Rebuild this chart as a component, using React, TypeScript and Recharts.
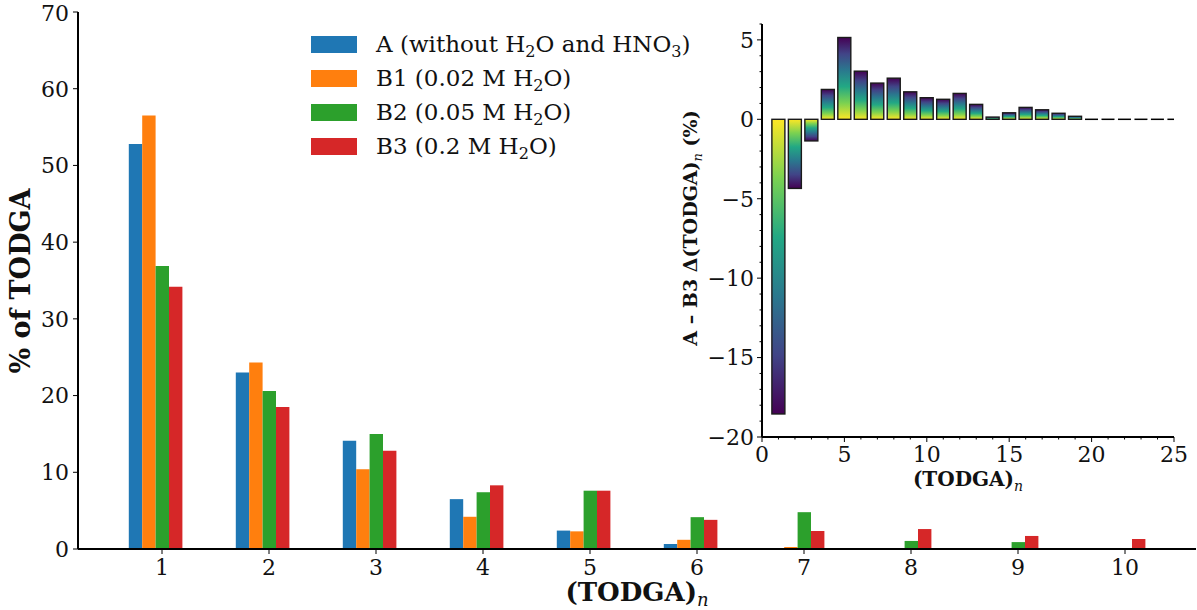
import React from 'react';
import { BarChart, Bar, XAxis, YAxis, Legend, Label } from 'recharts';

const FONT = '"DejaVu Serif", serif';
const INK = '#111';

// main panel: % of TODGA found in each (TODGA)n aggregate
const sizes = [1, 2, 3, 4, 5, 6, 7, 8, 9, 10];
const sampleA = [52.8, 23.0, 14.1, 6.5, 2.4, 0.65, 0.13, 0.02, 0, 0];
const sampleB1 = [56.5, 24.3, 10.4, 4.2, 2.3, 1.2, 0.26, 0.1, 0, 0];
const sampleB2 = [36.9, 20.6, 15.0, 7.4, 7.6, 4.15, 4.8, 1.05, 0.9, 0.05];
const sampleB3 = [34.2, 18.5, 12.8, 8.3, 7.6, 3.8, 2.35, 2.6, 1.7, 1.3];
const mainYTicks = [0, 10, 20, 30, 40, 50, 60, 70];

const seriesKeys = ['a', 'b1', 'b2', 'b3'];
const seriesNames = ['A (without H_2O and HNO_3)', 'B1 (0.02 M H_2O)', 'B2 (0.05 M H_2O)', 'B3 (0.2 M H_2O)'];
const seriesColors = ['#1f77b4', '#ff7f0e', '#2ca02c', '#d62728'];

// inset: difference between B3 and A for each aggregate size
const insetSizes = [1, 2, 3, 4, 5, 6, 7, 8, 9, 10, 11, 12, 13, 14, 15, 16, 17, 18, 19, 20, 21, 22, 23, 24, 25];
const insetDelta = [-18.55, -4.35, -1.36, 1.88, 5.15, 3.03, 2.28, 2.59, 1.73, 1.36, 1.26, 1.63, 0.94, 0.14, 0.41, 0.75, 0.6, 0.38, 0.19, 0, 0, 0, 0, 0, 0];
const insetXLabels = [0, 5, 10, 15, 20, 25];
const insetYLabels = [-20, -15, -10, -5, 0, 5];
const insetXTicks = Array.from({ length: 26 }, (_, i) => i);
const insetYTicks = Array.from({ length: 27 }, (_, i) => i - 20);

const mainRows = sizes.map((n, i) => ({
  n,
  a: sampleA[i],
  b1: sampleB1[i],
  b2: sampleB2[i],
  b3: sampleB3[i],
}));

const insetRows = insetSizes.map((n, i) => ({ n, delta: insetDelta[i] }));

const BAR_W = 13.4;
const viridis = ['#fde725', '#7ad151', '#22a884', '#2a788e', '#414487', '#440154'];

const fmt = (v: number) => (v < 0 ? '\u2212' + Math.abs(v) : String(v));

function withSubs(text: string) {
  const parts = text.split(/_(\d)/);
  return parts.map((p, i) =>
    i % 2 === 1 ? (
      <span key={i} style={{ fontSize: '0.7em', position: 'relative', top: '0.3em', lineHeight: 0 }}>
        {p}
      </span>
    ) : (
      <span key={i}>{p}</span>
    )
  );
}

const MainXTick = (props: any) => {
  const { x, y, payload } = props;
  const cx = x + BAR_W / 2;
  return (
    <g>
      <line x1={cx} x2={cx} y1={y - 9} y2={y - 4} stroke="#000" strokeWidth={1} />
      <text x={cx} y={y} dy="0.75em" textAnchor="middle" fontFamily={FONT} fontSize={22} fill={INK}>
        {payload.value}
      </text>
    </g>
  );
};

const InsetXTick = (props: any) => {
  const { x, y, payload } = props;
  const major = insetXLabels.includes(payload.value);
  const ay = y - 8;
  return (
    <g>
      <line x1={x} x2={x} y1={ay} y2={ay + (major ? 5 : 2.5)} stroke="#000" strokeWidth={1} />
      {major && (
        <text x={x} y={y} dy="0.75em" textAnchor="middle" fontFamily={FONT} fontSize={22} fill={INK}>
          {payload.value}
        </text>
      )}
    </g>
  );
};

const InsetYTick = (props: any) => {
  const { x, y, payload } = props;
  const major = insetYLabels.includes(payload.value);
  const ax = x + 8;
  return (
    <g>
      <line x1={ax - (major ? 5 : 2.5)} x2={ax} y1={y} y2={y} stroke="#000" strokeWidth={1} />
      {major && (
        <text x={x} y={y} dy="0.36em" textAnchor="end" fontFamily={FONT} fontSize={22} fill={INK}>
          {fmt(payload.value)}
        </text>
      )}
    </g>
  );
};

const InsetBar = (props: any) => {
  const { x, y, width, height, payload } = props;
  const h = Math.abs(height);
  if (h < 0.5) {
    return <line x1={x} x2={x + width} y1={y} y2={y} stroke="#000" strokeWidth={1.5} />;
  }
  const top = height < 0 ? y + height : y;
  const id = payload.delta >= 0 ? 'viridisUp' : 'viridisDown';
  return <rect x={x} y={top} width={width} height={h} fill={`url(#${id})`} stroke="#1a1a1a" strokeWidth={1.4} />;
};

const renderLegend = (props: any) => {
  const { payload } = props;
  return (
    <div style={{ fontFamily: FONT, fontSize: 23, color: INK }}>
      {payload.map((item: any, i: number) => (
        <div key={i} style={{ display: 'flex', alignItems: 'center', height: 34 }}>
          <span style={{ display: 'inline-block', width: 46, height: 17, background: item.color, marginRight: 19 }} />
          <span style={{ whiteSpace: 'nowrap' }}>{withSubs(item.value)}</span>
        </div>
      ))}
    </div>
  );
};

function MainChart() {
  return (
    <BarChart width={1197} height={610} data={mainRows} margin={{ top: 12, right: 1, bottom: 0, left: 8 }} barGap={0}>
      <XAxis
        dataKey="n"
        padding={{ left: 23.8, right: 24.2 }}
        height={61}
        interval={0}
        tickSize={5}
        tickMargin={4}
        tickLine={false}
        tick={<MainXTick />}
        axisLine={{ stroke: '#000', strokeWidth: 2 }}
      >
        <Label
          content={() => (
            <text x={637} y={601} textAnchor="middle" fontFamily={FONT} fontSize={26} fontWeight="bold" fill={INK}>
              (TODGA)
              <tspan dy={5} fontSize={18} fontStyle="italic" fontWeight="normal">
                n
              </tspan>
            </text>
          )}
        />
      </XAxis>
      <XAxis xAxisId="top" dataKey="n" orientation="top" height={0} tick={false} tickLine={false} axisLine={{ stroke: '#444', strokeWidth: 1 }} />
      <YAxis
        domain={[0, 70]}
        ticks={mainYTicks}
        width={70}
        tickSize={5}
        tickMargin={4}
        tick={{ fontFamily: FONT, fontSize: 22, fill: INK }}
        tickLine={{ stroke: '#000' }}
        axisLine={{ stroke: '#000', strokeWidth: 2 }}
      >
        <Label
          content={() => (
            <text
              transform="translate(30,281) rotate(-90)"
              textAnchor="middle"
              fontFamily={FONT}
              fontSize={27}
              fontWeight="bold"
              fill={INK}
            >
              % of TODGA
            </text>
          )}
        />
      </YAxis>
      <YAxis yAxisId="right" orientation="right" width={0} tick={false} tickLine={false} axisLine={{ stroke: '#444', strokeWidth: 1 }} />
      <Legend
        content={renderLegend}
        layout="vertical"
        align="center"
        verticalAlign="middle"
        wrapperStyle={{ left: 311, top: 27, width: 420 }}
      />
      {seriesKeys.map((k, i) => (
        <Bar
          key={k}
          dataKey={k}
          name={seriesNames[i]}
          fill={seriesColors[i]}
          barSize={BAR_W}
          isAnimationActive={false}
        />
      ))}
    </BarChart>
  );
}

function InsetChart() {
  return (
    <BarChart width={1197} height={610} data={insetRows} margin={{ top: 24, right: 23, bottom: 133, left: 700 }} barCategoryGap="10%">
      <defs>
        <linearGradient id="viridisUp" x1="0" y1="1" x2="0" y2="0">
          {viridis.map((c, i) => (
            <stop key={i} offset={i / (viridis.length - 1)} stopColor={c} />
          ))}
        </linearGradient>
        <linearGradient id="viridisDown" x1="0" y1="0" x2="0" y2="1">
          {viridis.map((c, i) => (
            <stop key={i} offset={i / (viridis.length - 1)} stopColor={c} />
          ))}
        </linearGradient>
      </defs>
      <XAxis
        dataKey="n"
        type="number"
        domain={[0, 25]}
        ticks={insetXTicks}
        interval={0}
        allowDataOverflow
        height={40}
        tickSize={5}
        tickMargin={3}
        tickLine={false}
        tick={<InsetXTick />}
        axisLine={{ stroke: '#000', strokeWidth: 2 }}
      >
        <Label
          content={() => (
            <text x={968} y={486} textAnchor="middle" fontFamily={FONT} fontSize={20} fontWeight="bold" fill={INK}>
              (TODGA)
              <tspan dy={5} fontSize={14} fontStyle="italic" fontWeight="normal">
                n
              </tspan>
            </text>
          )}
        />
      </XAxis>
      <XAxis xAxisId="top" dataKey="n" type="number" domain={[0, 25]} orientation="top" height={0} tick={false} tickLine={false} axisLine={{ stroke: '#000', strokeWidth: 2 }} />
      <YAxis
        domain={[-20, 6]}
        ticks={insetYTicks}
        interval={0}
        allowDataOverflow
        width={62}
        tickSize={5}
        tickMargin={3}
        tickLine={false}
        tick={<InsetYTick />}
        axisLine={{ stroke: '#000', strokeWidth: 2 }}
      >
        <Label
          content={() => (
            <text
              transform="translate(697,228) rotate(-90)"
              textAnchor="middle"
              fontFamily={FONT}
              fontSize={19}
              fontWeight="bold"
              fill={INK}
            >
              A – B3 Δ(TODGA)
              <tspan dy={5} fontSize={13} fontStyle="italic" fontWeight="normal">
                n
              </tspan>
              <tspan dy={-5}> (%)</tspan>
            </text>
          )}
        />
      </YAxis>
      <YAxis yAxisId="right" orientation="right" width={0} tick={false} tickLine={false} axisLine={{ stroke: '#000', strokeWidth: 2 }} />
      <Bar dataKey="delta" shape={<InsetBar />} isAnimationActive={false} />
    </BarChart>
  );
}

export default function App() {
  return (
    <div style={{ position: 'relative', width: 1197, height: 610, background: '#fff' }}>
      <style>{'body { margin: 0; }'}</style>
      <MainChart />
      <div style={{ position: 'absolute', left: 0, top: 0 }}>
        <InsetChart />
      </div>
    </div>
  );
}
